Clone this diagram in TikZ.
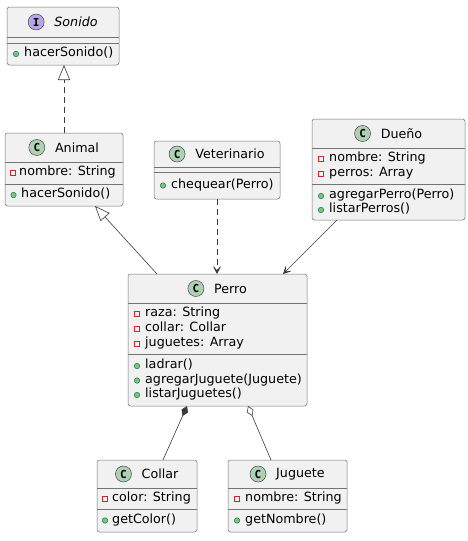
\documentclass[tikz,border=0pt]{standalone}
\usepackage{fontspec}
\setmainfont{DejaVu Sans}
\newfontfamily\badgefont{DejaVu Sans Mono}
\usetikzlibrary{arrows.meta,calc}
\definecolor{boxfill}{HTML}{F1F1F1}
\definecolor{boxline}{HTML}{181818}
\definecolor{cbadge}{HTML}{ADD1B2}
\definecolor{ibadge}{HTML}{B4A7E5}
\definecolor{privred}{HTML}{C82930}
\definecolor{pubfill}{HTML}{84BE84}
\definecolor{publine}{HTML}{038048}
\begin{document}
\begin{tikzpicture}[x=1pt,y=-1pt,
  umlbox/.style={draw=boxline!60, line width=0.5pt, fill=boxfill, rounded corners=2.5pt, inner sep=0pt, outer sep=0pt},
  sep/.style={draw=boxline!60, line width=0.5pt},
  title/.style={inner sep=0pt, font=\fontsize{12.7}{15}\selectfont},
  member/.style={anchor=mid west, inner sep=0pt, font=\fontsize{12.7}{15}\selectfont},
  badge/.style={circle, draw=boxline!80, line width=0.5pt, minimum size=16pt, inner sep=0pt, font=\fontsize{11}{11}\selectfont\badgefont\bfseries},
  priv/.style={draw=privred, line width=0.6pt, minimum size=5pt, inner sep=0pt},
  pub/.style={circle, draw=publine, fill=pubfill, line width=0.5pt, minimum size=5.5pt, inner sep=0pt},
  conn/.style={draw=boxline!85, line width=0.6pt},
  dashline/.style={dash pattern=on 6pt off 4pt},
  realtip/.style={-{Triangle[open, length=15pt, width=12pt]}},
  deptip/.style={-{Stealth[length=10pt, width=10pt, inset=6.5pt]}},
  comptip/.style={-{Diamond[length=11pt, width=7pt]}},
  aggtip/.style={-{Diamond[open, length=11pt, width=7pt]}}
]
\useasboundingbox (0,0) rectangle (468,541);
\fill[white] (0,0) rectangle (468,541);

% ---------- Sonido ----------
\node[umlbox, minimum width=112pt, minimum height=58pt] (sonido) at (63,36) {};
\draw[sep] (sonido.west |- 0,37) -- (sonido.east |- 0,37);
\draw[sep] (sonido.west |- 0,43) -- (sonido.east |- 0,43);
\node[title] (sonidoT) at (63,22) {\hspace*{26pt}\itshape Sonido};
\node[badge, fill=ibadge] (sonidoB) at ($(sonidoT.west)+(8,0)$) {I};
\node[pub] (sonidoM1i) at (16,54) {};
\node[member] (sonidoM1) at (24,54) {hacerSonido()};

% ---------- Animal ----------
\node[umlbox, minimum width=118pt, minimum height=73pt] (animal) at (64,169.5) {};
\draw[sep] (animal.west |- 0,162) -- (animal.east |- 0,162);
\draw[sep] (animal.west |- 0,184) -- (animal.east |- 0,184);
\node[title] (animalT) at (64,147.5) {\hspace*{26pt}Animal};
\node[badge, fill=cbadge] (animalB) at ($(animalT.west)+(8,0)$) {C};
\node[priv] (animalA1i) at (12.5,173) {};
\node[member] (animalA1) at (19,173) {nombre: String};
\node[pub] (animalM1i) at (13.5,195) {};
\node[member] (animalM1) at (21,195) {hacerSonido()};

% ---------- Veterinario ----------
\node[umlbox, minimum width=126pt, minimum height=58pt] (vet) at (217,170) {};
\draw[sep] (vet.west |- 0,167) -- (vet.east |- 0,167);
\draw[sep] (vet.west |- 0,172) -- (vet.east |- 0,172);
\node[title] (vetT) at (217,154) {\hspace*{26pt}Veterinario};
\node[badge, fill=cbadge] (vetB) at ($(vetT.west)+(8,0)$) {C};
\node[pub] (vetM1i) at (163,185.5) {};
\node[member] (vetM1) at (171,185.5) {chequear(Perro)};

% ---------- Dueño ----------
\node[umlbox, minimum width=153pt, minimum height=101pt] (dueno) at (388.5,169.5) {};
\draw[sep] (dueno.west |- 0,148) -- (dueno.east |- 0,148);
\draw[sep] (dueno.west |- 0,184) -- (dueno.east |- 0,184);
\node[title] (duenoT) at (388.5,133.5) {\hspace*{26pt}Dueño};
\node[badge, fill=cbadge] (duenoB) at ($(duenoT.west)+(8,0)$) {C};
\node[priv] (duenoA1i) at (321,159) {};
\node[member] (duenoA1) at (329,159) {nombre: String};
\node[priv] (duenoA2i) at (321,174) {};
\node[member] (duenoA2) at (329,174) {perros: Array};
\node[pub] (duenoM1i) at (321,196) {};
\node[member] (duenoM1) at (329,196) {agregarPerro(Perro)};
\node[pub] (duenoM2i) at (321,210) {};
\node[member] (duenoM2) at (329,210) {listarPerros()};

% ---------- Perro ----------
\node[umlbox, minimum width=179pt, minimum height=132pt] (perro) at (217.5,340) {};
\draw[sep] (perro.west |- 0,303) -- (perro.east |- 0,303);
\draw[sep] (perro.west |- 0,354) -- (perro.east |- 0,354);
\node[title] (perroT) at (217.5,288.5) {\hspace*{26pt}Perro};
\node[badge, fill=cbadge] (perroB) at ($(perroT.west)+(8,0)$) {C};
\node[priv] (perroA1i) at (137,314) {};
\node[member] (perroA1) at (145,314) {raza: String};
\node[priv] (perroA2i) at (137,329) {};
\node[member] (perroA2) at (145,329) {collar: Collar};
\node[priv] (perroA3i) at (137,343.5) {};
\node[member] (perroA3) at (145,343.5) {juguetes: Array};
\node[pub] (perroM1i) at (137,366) {};
\node[member] (perroM1) at (145,366) {ladrar()};
\node[pub] (perroM2i) at (137,380.5) {};
\node[member] (perroM2) at (145,380.5) {agregarJuguete(Juguete)};
\node[pub] (perroM3i) at (137,395) {};
\node[member] (perroM3) at (145,395) {listarJuguetes()};

% ---------- Collar ----------
\node[umlbox, minimum width=100pt, minimum height=72pt] (collar) at (147,496) {};
\draw[sep] (collar.west |- 0,488) -- (collar.east |- 0,488);
\draw[sep] (collar.west |- 0,509) -- (collar.east |- 0,509);
\node[title] (collarT) at (147,474) {\hspace*{26pt}Collar};
\node[badge, fill=cbadge] (collarB) at ($(collarT.west)+(8,0)$) {C};
\node[priv] (collarA1i) at (105,498.5) {};
\node[member] (collarA1) at (112,498.5) {color: String};
\node[pub] (collarM1i) at (105,520.5) {};
\node[member] (collarM1) at (112,520.5) {getColor()};

% ---------- Juguete ----------
\node[umlbox, minimum width=119pt, minimum height=72pt] (juguete) at (287.5,496) {};
\draw[sep] (juguete.west |- 0,488) -- (juguete.east |- 0,488);
\draw[sep] (juguete.west |- 0,509) -- (juguete.east |- 0,509);
\node[title] (jugueteT) at (287.5,474) {\hspace*{26pt}Juguete};
\node[badge, fill=cbadge] (jugueteB) at ($(jugueteT.west)+(8,0)$) {C};
\node[priv] (jugueteA1i) at (237,498.5) {};
\node[member] (jugueteA1) at (245,498.5) {nombre: String};
\node[pub] (jugueteM1i) at (237,520.5) {};
\node[member] (jugueteM1) at (245,520.5) {getNombre()};

% ---------- Connectors ----------
\draw[conn, dashline, realtip] (animal.north) -- (animal.north |- sonido.south);
\draw[conn, realtip] ($(perro.north west)+(29,0)$) -- ($(animal.south east)+(-28,0)$);
\draw[conn, dashline, deptip] (vet.south) -- (vet.south |- perro.north);
\draw[conn, deptip] ($(dueno.south west)+(25,0)$) -- ($(perro.north east)+(-24,0)$);
\draw[conn, comptip] ($(collar.north west)+(66,0)$) -- ($(perro.south west)+(59,0)$);
\draw[conn, aggtip] ($(juguete.north west)+(43,0)$) -- ($(perro.south west)+(120,0)$);
\end{tikzpicture}
\end{document}
